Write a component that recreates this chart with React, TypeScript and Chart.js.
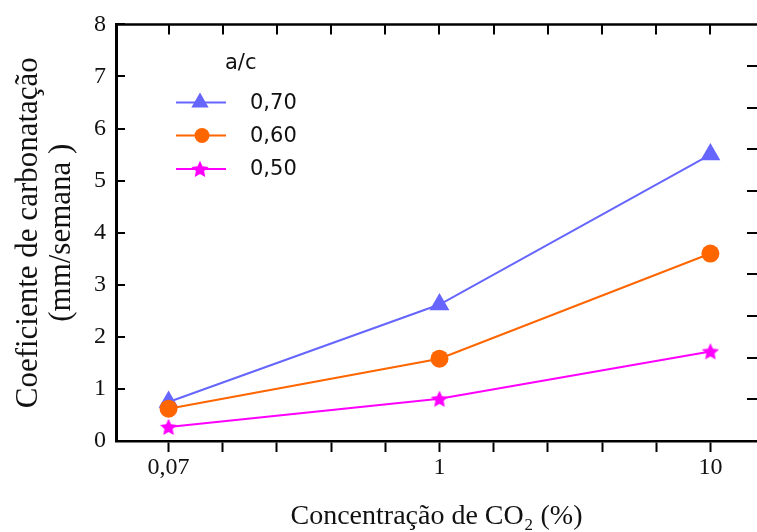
import { useEffect, useRef } from "react";
import { Chart, registerables } from "chart.js";

Chart.register(...registerables);

// ---- data ----
const categories = ["0,07", "1", "10"];
const minorTicksPerCategory = 5;
const seriesLabels = ["0,70", "0,60", "0,50"];
const wc070 = [0.75, 2.62, 5.5];
const wc060 = [0.62, 1.58, 3.6];
const wc050 = [0.27, 0.81, 1.72];
const rightAxisDivisions = 10;
const legendTitle = "a/c";
const yTitle = ["Coeficiente de carbonatação", "(mm/semana )"];
const xTitle = "Concentração de CO₂ (%)";

const BLUE = "rgb(102,102,255)";
const ORANGE = "rgb(255,102,0)";
const MAGENTA = "rgb(255,0,255)";
const SERIF = "'Liberation Serif', 'Times New Roman', serif";
const SANS = "'DejaVu Sans', Verdana, sans-serif";

function makeStar(color: string, r: number) {
  const c = document.createElement("canvas");
  const s = Math.ceil(2 * r + 2);
  c.width = s;
  c.height = s;
  const ctx = c.getContext("2d")!;
  const cx = s / 2;
  const cy = s / 2 + r * 0.08;
  ctx.beginPath();
  for (let i = 0; i < 10; i++) {
    const rad = i % 2 === 0 ? r : r * 0.48;
    const a = -Math.PI / 2 + (i * Math.PI) / 5;
    const px = cx + Math.cos(a) * rad;
    const py = cy + Math.sin(a) * rad;
    if (i === 0) ctx.moveTo(px, py);
    else ctx.lineTo(px, py);
  }
  ctx.closePath();
  ctx.fillStyle = color;
  ctx.fill();
  return c;
}

const toPoints = (vals: number[]) =>
  vals.map((v, i) => ({ x: i * minorTicksPerCategory, y: v }));

const framePlugin = {
  id: "frame",
  afterDraw(chart: any) {
    const { ctx, chartArea } = chart;
    const xs = chart.scales.x;
    const ys = chart.scales.y;
    ctx.save();
    ctx.strokeStyle = "#000";
    // top line
    ctx.lineWidth = 2.5;
    ctx.beginPath();
    ctx.moveTo(chartArea.left - 1, chartArea.top);
    ctx.lineTo(chartArea.right, chartArea.top);
    ctx.stroke();
    ctx.lineWidth = 2;
    // top ticks (inward)
    xs.ticks.forEach((t: any) => {
      const px = Math.round(xs.getPixelForValue(t.value));
      ctx.beginPath();
      ctx.moveTo(px, chartArea.top);
      ctx.lineTo(px, chartArea.top + 10);
      ctx.stroke();
    });
    // left ticks (inward)
    ys.ticks.forEach((t: any) => {
      const py = Math.round(ys.getPixelForValue(t.value));
      ctx.beginPath();
      ctx.moveTo(chartArea.left, py);
      ctx.lineTo(chartArea.left + 9, py);
      ctx.stroke();
    });
    // right ticks (inward), secondary division
    const yMax = ys.max;
    for (let i = 1; i < rightAxisDivisions; i++) {
      const py = Math.round(ys.getPixelForValue((i * yMax) / rightAxisDivisions));
      ctx.beginPath();
      ctx.moveTo(chartArea.right - 10, py);
      ctx.lineTo(chartArea.right, py);
      ctx.stroke();
    }
    ctx.restore();
  },
};

const legendPlugin = {
  id: "customLegend",
  afterDraw(chart: any) {
    const { ctx } = chart;
    ctx.save();
    ctx.font = `21px ${SANS}`;
    ctx.fillStyle = "#111";
    ctx.textBaseline = "middle";
    ctx.textAlign = "left";
    ctx.fillText(legendTitle, 225, 64);
    const rows = [102.5, 135.5, 169];
    const order = [0, 1, 2];
    order.forEach((di, k) => {
      const ds = chart.data.datasets[di];
      const y = rows[k];
      ctx.strokeStyle = ds.borderColor;
      ctx.lineWidth = 2;
      ctx.beginPath();
      ctx.moveTo(176, y);
      ctx.lineTo(226, y);
      ctx.stroke();
      ctx.fillStyle = ds.borderColor;
      const cx = 200;
      if (ds.pointStyle === "triangle") {
        const r = 10;
        ctx.beginPath();
        for (let j = 0; j < 3; j++) {
          const a = (j * 2 * Math.PI) / 3;
          const px = cx + Math.sin(a) * r;
          const py = y - Math.cos(a) * r;
          if (j === 0) ctx.moveTo(px, py);
          else ctx.lineTo(px, py);
        }
        ctx.closePath();
        ctx.fill();
      } else if (ds.pointStyle === "circle") {
        ctx.beginPath();
        ctx.arc(cx + 2, y, 7.5, 0, Math.PI * 2);
        ctx.fill();
      } else {
        const img = ds.legendImage as HTMLCanvasElement;
        ctx.drawImage(img, cx - img.width / 2, y - img.height / 2);
      }
      ctx.fillStyle = "#111";
      ctx.fillText(ds.label, 250, y + 1);
    });
    ctx.restore();
  },
};

export default function App() {
  const ref = useRef<HTMLCanvasElement | null>(null);
  useEffect(() => {
    document.body.style.margin = "0";
    const canvas = ref.current!;
    const starPoint = makeStar(MAGENTA, 9);
    const starLegend = makeStar(MAGENTA, 9);
    const chart = new Chart(canvas, {
      type: "line",
      data: {
        datasets: [
          {
            label: seriesLabels[0],
            data: toPoints(wc070),
            borderColor: BLUE,
            backgroundColor: BLUE,
            borderWidth: 2,
            pointStyle: "triangle",
            pointRadius: 11.5,
            pointBorderWidth: 0,
            order: 2,
          },
          {
            label: seriesLabels[1],
            data: toPoints(wc060),
            borderColor: ORANGE,
            backgroundColor: ORANGE,
            borderWidth: 2,
            pointStyle: "circle",
            pointRadius: 9,
            pointBorderWidth: 0,
            order: 1,
          },
          {
            label: seriesLabels[2],
            data: toPoints(wc050),
            borderColor: MAGENTA,
            backgroundColor: MAGENTA,
            borderWidth: 2,
            pointStyle: starPoint as any,
            pointRadius: 9,
            order: 0,
            legendImage: starLegend,
          } as any,
        ],
      },
      options: {
        animation: false,
        responsive: false,
        devicePixelRatio: 1,
        layout: {
          autoPadding: false,
          padding: { top: 17, right: 0, bottom: 0, left: 0 },
        },
        plugins: {
          legend: { display: false },
          tooltip: { enabled: false },
        },
        scales: {
          x: {
            type: "linear",
            min: -0.97,
            max: 10.86,
            afterFit: (s: any) => {
              s.height = 91;
              s.paddingLeft = 0;
              s.paddingRight = 0;
            },
            ticks: {
              stepSize: 1,
              includeBounds: false,
              autoSkip: false,
              maxRotation: 0,
              maxTicksLimit: 50,
              padding: 1,
              color: "#111",
              font: { family: SERIF, size: 24 },
              callback: (v: any) => {
                const n = Number(v);
                if (n % minorTicksPerCategory === 0) {
                  return categories[n / minorTicksPerCategory] ?? "";
                }
                return "";
              },
            },
            grid: {
              drawOnChartArea: false,
              drawTicks: true,
              tickLength: 11,
              tickWidth: 2,
              tickColor: "#000",
              color: "#000",
            },
            border: { display: true, color: "#000", width: 2.5 },
            title: {
              display: true,
              text: xTitle,
              color: "#111",
              font: { family: SERIF, size: 28, lineHeight: 1.0 },
              padding: { top: 0, bottom: 1 },
            },
          },
          y: {
            min: 0,
            max: 8,
            afterFit: (s: any) => {
              s.width = 116;
            },
            ticks: {
              stepSize: 1,
              padding: 10,
              color: "#111",
              font: { family: SERIF, size: 24 },
            },
            grid: { display: false, drawTicks: false },
            border: { display: true, color: "#000", width: 3 },
            title: {
              display: true,
              text: yTitle,
              color: "#111",
              font: { family: SERIF, size: 31, lineHeight: 1.08 },
              padding: { top: 12, bottom: 0 },
            },
          },
        },
      },
      plugins: [framePlugin, legendPlugin],
    });
    return () => chart.destroy();
  }, []);
  return (
    <div style={{ width: 757, height: 532 }}>
      <canvas ref={ref} width={757} height={532} />
    </div>
  );
}
